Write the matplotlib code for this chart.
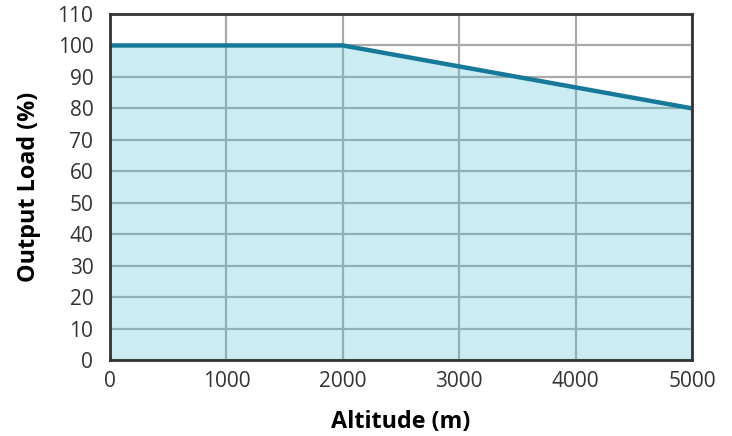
import matplotlib
matplotlib.use("Agg")
import matplotlib.pyplot as plt

altitude = [0, 2000, 5000]
load = [100, 100, 80]
x_ticks = [0, 1000, 2000, 3000, 4000, 5000]
y_ticks = list(range(0, 111, 10))

plt.rcParams['font.family'] = ['Open Sans', 'DejaVu Sans']

fig = plt.figure(figsize=(7.32, 4.36), dpi=100)
ax = fig.add_axes([110/732, 1-360/436, (692-110)/732, (360-14)/436])

ax.grid(True, color='#a9a9a9', linewidth=1.6, zorder=1)
ax.set_axisbelow(True)
ax.fill_between(altitude, load, 0, color='#58c3da', alpha=0.3, zorder=2, linewidth=0)
ax.plot(altitude, load, color='#17799a', linewidth=3.2, zorder=3, solid_capstyle='butt')

ax.set_xlim(0, 5000)
ax.set_ylim(0, 110)
ax.set_xticks(x_ticks)
ax.set_yticks(y_ticks)
ax.tick_params(length=0, labelsize=15, colors='#333333')
ax.tick_params(axis='y', pad=12)
ax.tick_params(axis='x', pad=8)
for s in ax.spines.values():
    s.set_color('#333333')
    s.set_linewidth(2)
    s.set_zorder(4)

ax.set_xlabel('Altitude (m)', fontsize=16.8, fontweight='bold', labelpad=13, color='black')
ax.set_ylabel('Output Load (%)', fontsize=16.8, fontweight='bold', labelpad=12, color='black')

fig.savefig('out.png', dpi=100)
